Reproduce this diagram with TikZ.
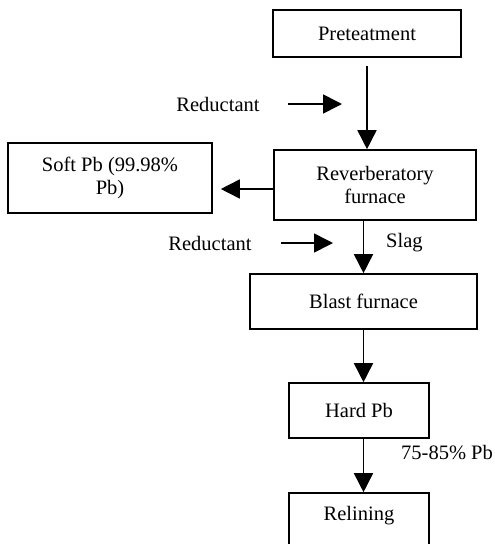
\documentclass[tikz,border=0pt]{standalone}
\usepackage{fontspec}
\setmainfont{Liberation Serif}
\usetikzlibrary{arrows.meta}
\begin{document}
\begin{tikzpicture}[x=1pt,y=-1pt,
  font=\fontsize{20.5pt}{23pt}\selectfont,
  box/.style={draw, line width=1.6pt, inner sep=0pt, align=center},
  arr/.style={line width=1.6pt, -{Triangle[length=19pt,width=19pt]}},
  lbl/.style={inner sep=0pt}]
\useasboundingbox (0,0) rectangle (495,544);

% process boxes
\node[box, minimum width=188pt, minimum height=47pt] (pre) at (367,33.5) {Preteatment};
\node[box, minimum width=202pt, minimum height=70pt] (rev) at (375,185) {Reverberatory\\furnace};
\node[box, minimum width=204pt, minimum height=70pt] (soft) at (110,178) {Soft Pb (99.98\%\\Pb)};
\node[box, minimum width=227pt, minimum height=55pt] (blast) at (363.5,301.5) {Blast furnace};
\node[box, minimum width=140pt, minimum height=55pt] (hard) at (359,410.5) {Hard Pb};
\node[box, minimum width=140pt, minimum height=55pt] (relin) at (359,520.5) {};
\node[lbl] (relintxt) at (359,516) {Relining};

% side labels
\node[lbl] (red1) at (218,104) {Reductant};
\node[lbl] (red2) at (210,243) {Reductant};
\node[lbl, anchor=west] (slag) at (386,243) {Slag};
\node[lbl, anchor=west] (pct) at (401,453) {75-85\% Pb};

% reductant feed arrows
\coordinate (r1s) at (288,104);
\coordinate (r1e) at (342,104);
\coordinate (r2s) at (281,243);
\coordinate (r2e) at (333,243);
\draw[arr] (r1s) -- (r1e);
\draw[arr] (r2s) -- (r2e);

% main flow
\draw[arr, shorten <=8pt] (pre.south) -- (pre.south |- rev.north);
\draw[arr, shorten >=8pt] ([yshift=-4pt]rev.west) -- ([yshift=-4pt]rev.west -| soft.east);
\draw[arr] (rev.south -| blast.north) -- (blast.north);
\draw[arr] (blast.south) -- (blast.south |- hard.north);
\draw[arr] (blast.south |- hard.south) -- (blast.south |- relin.north);
\end{tikzpicture}
\end{document}
